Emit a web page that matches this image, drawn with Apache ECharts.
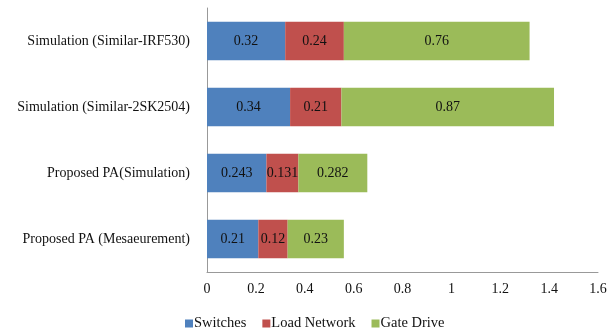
<!DOCTYPE html>
<html>
<head>
<meta charset="utf-8">
<script src="https://cdn.jsdelivr.net/npm/echarts@6/dist/echarts.min.js"></script>
<style>
html,body{margin:0;padding:0;background:#fff;}
#chart{width:613px;height:330px;}
</style>
</head>
<body>
<div id="chart"></div>
<script>
// Power-loss breakdown per design, stacked horizontally
const categories = [
  'Proposed PA (Mesaeurement)',
  'Proposed PA(Simulation)',
  'Simulation (Similar-2SK2504)',
  'Simulation (Similar-IRF530)'
];
const switches = [0.21, 0.243, 0.34, 0.32];
const loadNetwork = [0.12, 0.131, 0.21, 0.24];
const gateDrive = [0.23, 0.282, 0.87, 0.76];
const seriesNames = ['Switches', 'Load Network', 'Gate Drive'];
const seriesColors = ['#4F81BD', '#C0504D', '#9BBB59'];

const font = 'Liberation Serif, Times New Roman, serif';
const chart = echarts.init(document.getElementById('chart'));

const mk = (name, data, color) => ({
  name: name,
  type: 'bar',
  stack: 'total',
  data: data,
  barWidth: '58%',
  itemStyle: { color: color },
  label: {
    show: true,
    position: 'inside',
    color: '#111',
    fontFamily: font,
    fontSize: 14,
    formatter: p => String(p.value)
  }
});

chart.setOption({
  animation: false,
  textStyle: { fontFamily: font },
  grid: { left: 207, right: 15, top: 8, bottom: 58 },
  legend: {
    top: 311,
    left: 180,
    itemWidth: 8,
    itemHeight: 8,
    itemGap: 16,
    icon: 'rect',
    textStyle: { fontFamily: font, fontSize: 14.5, color: '#111', padding: [0, 0, 0, -4] },
    data: seriesNames
  },
  xAxis: {
    type: 'value',
    min: 0,
    max: 1.6,
    interval: 0.2,
    splitLine: { show: false },
    axisLine: { show: true, lineStyle: { color: '#999', width: 1 } },
    axisTick: { show: false },
    axisLabel: {
      color: '#111',
      fontFamily: font,
      fontSize: 14,
      margin: 10,
      formatter: v => String(Math.round(v * 10) / 10)
    }
  },
  yAxis: {
    type: 'category',
    data: categories,
    axisLine: { show: true, lineStyle: { color: '#999', width: 1 } },
    axisTick: { show: false },
    axisLabel: { color: '#111', fontFamily: font, fontSize: 14, margin: 17 }
  },
  series: [
    mk(seriesNames[0], switches, seriesColors[0]),
    mk(seriesNames[1], loadNetwork, seriesColors[1]),
    mk(seriesNames[2], gateDrive, seriesColors[2])
  ]
});
</script>
</body>
</html>
